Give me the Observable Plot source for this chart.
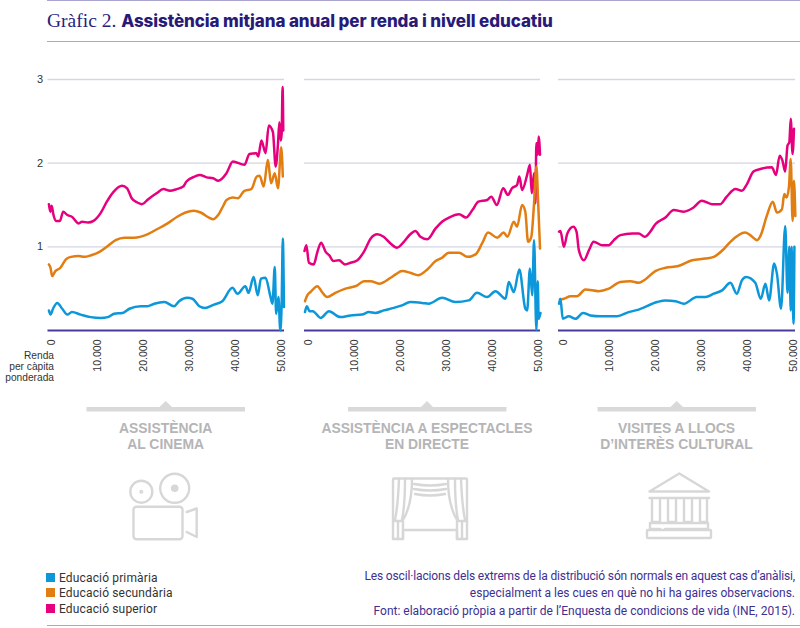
<!DOCTYPE html>
<html><head><meta charset="utf-8">
<script src="https://cdn.jsdelivr.net/npm/d3@7"></script>
<script src="https://cdn.jsdelivr.net/npm/@observablehq/plot@0.6"></script>
<style>
html,body{margin:0;padding:0;background:#fff}
#page{position:relative;width:800px;height:628px;overflow:hidden;font-family:"Liberation Sans",sans-serif}
.abs{position:absolute;white-space:nowrap}
.rule{position:absolute;height:1px;background:#aaa5d0;left:47px;right:0}
#title{left:47px;top:7px;color:#2a1e7c;font-size:19.5px;font-family:"Liberation Serif",serif;line-height:28px}
#title b{font-family:"Inter",sans-serif;font-size:17px;font-weight:800;letter-spacing:-.08px;color:#281a78}
.head{color:#b5b5b7;font-weight:700;font-size:13.9px;line-height:16px;text-align:center;transform:translateX(-50%)}
.legend{left:59px;font-size:12px;color:#333;font-family:"Roboto",sans-serif;letter-spacing:.15px;line-height:15px}
.sw{position:absolute;left:46px;width:9px;height:9px}
.note{right:5px;font-size:12px;color:#3e2f92;font-family:"Roboto",sans-serif;text-align:right;line-height:15px}
.rl{right:746px;font-size:10.2px;color:#333;line-height:11px;text-align:right}
svg.deco{position:absolute;left:0;top:0;pointer-events:none}
</style></head><body>
<div id="page">
<div class="rule" style="top:0"></div>
<div class="abs" id="title">Gràfic 2. <b>Assistència mitjana anual per renda i nivell educatiu</b></div>
<div class="rule" style="top:41px"></div>
<div class="abs rl" style="top:350px">Renda<br>per càpita<br>ponderada</div>

<svg class="deco" width="800" height="628" fill="none" stroke="#d7d7d8" stroke-width="2.4" stroke-linejoin="round" stroke-linecap="round">
  <g stroke="none" fill="#d9d9da">
    <path d="M86.5 407H159.5L165.7 401L172 407H245V411.5H86.5Z"/>
    <path d="M348 407H421L427 401L433 407H506.5V411.5H348Z"/>
    <path d="M597.5 407H670.5L676.7 401L683 407H756V411.5H597.5Z"/>
  </g>
  <circle cx="141.3" cy="491.7" r="11"/><circle cx="141.3" cy="491.7" r=".8"/>
  <circle cx="174.7" cy="488.3" r="14.5"/><circle cx="174.7" cy="488.3" r="2.6" fill="#d7d7d8"/>
  <rect x="133.5" y="506.7" width="49" height="32.5" rx="3"/>
  <path d="M186.7 512L196.7 508.5V537L186.7 532"/>
  <path d="M393 539V479.5Q393 478.5 394 478.5H466Q467 478.5 467 479.5V539H457V530H403V539Z"/>
  <path d="M403 539V521M398 539V522M393 521H403M457 539V521M462 539V522M457 521H467"/>
  <path d="M399 479Q398 505 395 520M405 479Q405 505 402 520M412 479Q412 505 403 520"/>
  <path d="M461 479Q462 505 465 520M455 479Q455 505 458 520M448 479Q448 505 457 520"/>
  <path d="M414 484Q430 487 446 484M414 489Q430 492 446 489M415 494Q430 497 445 494"/>
  <path d="M649.5 491.5L679.3 473.5L709 491.5Z"/>
  <path d="M649.5 498H709"/>
  <path d="M652 500V522H660V500M668 500V522H676V500M684 500V522H692V500M700 500V522H707V500"/>
  <path d="M650 523H708V529H665M660 529H650V523"/>
  <rect x="647" y="530" width="64" height="8" rx="1"/>
</svg>

<div class="abs head" style="left:165.7px;top:420px">ASSISTÈNCIA<br>AL CINEMA</div>
<div class="abs head" style="left:427px;top:420px">ASSISTÈNCIA A ESPECTACLES<br>EN DIRECTE</div>
<div class="abs head" style="left:676.5px;top:420px">VISITES A LLOCS<br>D’INTERÈS CULTURAL</div>

<div class="sw" style="top:573px;background:#0b97d9"></div><div class="abs legend" style="top:571px">Educació primària</div>
<div class="sw" style="top:588px;background:#e27d12"></div><div class="abs legend" style="top:586px">Educació secundària</div>
<div class="sw" style="top:604px;background:#e6007e"></div><div class="abs legend" style="top:602px">Educació superior</div>

<div class="abs note" style="top:569px;letter-spacing:-.15px">Les oscil·lacions dels extrems de la distribució són normals en aquest cas d’anàlisi,</div>
<div class="abs note" style="top:586px">especialment a les cues en què no hi ha gaires observacions.</div>
<div class="abs note" style="top:604px">Font: elaboració pròpia a partir de l’Enquesta de condicions de vida (INE, 2015).</div>
<div class="rule" style="top:625px"></div>
</div>
<script>
// [renda (milers d'euros), assistència]
const cinemaSuperior=[[-.5,1.51],[-.2,1.42],[.1,1.49],[.5,1.38],[1,1.31],[1.9,1.31],[2.6,1.42],[3.5,1.38],[4.5,1.36],[6,1.28],[6.7,1.3],[8,1.29],[9.2,1.31],[10.7,1.4],[12.1,1.54],[13.6,1.66],[15.4,1.73],[16.5,1.7],[17.5,1.58],[18.7,1.53],[19.7,1.51],[21.1,1.57],[22.9,1.64],[24.4,1.69],[25.8,1.67],[27.3,1.69],[28.7,1.72],[29.4,1.78],[31.2,1.84],[32.3,1.86],[33.8,1.83],[35.2,1.82],[36.3,1.79],[38.1,1.88],[39.5,2.02],[42,1.98],[43.1,2.11],[44.6,2.12],[45,2.08],[45.7,2.27],[46.6,2.12],[47.3,2.45],[48.2,2.37],[48.8,1.96],[49.3,2.23],[49.6,2.49],[49.9,2.27],[50.1,2.35],[50.3,2.91],[50.45,2.39]];
const cinemaSecundaria=[[-.5,.79],[-.15,.75],[.2,.65],[.9,.71],[2,.75],[3.2,.85],[4.3,.88],[6,.89],[7.2,.88],[8.7,.9],[10.5,.94],[12.3,1.01],[14,1.08],[15.9,1.11],[18,1.11],[20.9,1.15],[23,1.21],[25.3,1.28],[27.4,1.36],[29.2,1.41],[31,1.43],[32.5,1.41],[34.3,1.35],[35.2,1.33],[36.3,1.38],[37.5,1.5],[38.1,1.56],[39.5,1.59],[40.6,1.58],[42,1.67],[43.5,1.69],[44.7,1.84],[45.3,1.85],[46.2,1.72],[47.1,2.04],[47.8,1.76],[48.6,1.88],[49.3,1.7],[50,2.19],[50.35,1.84]];
const cinemaPrimaria=[[-.5,.24],[-.15,.19],[.4,.26],[1.3,.33],[2.4,.26],[3.5,.19],[4.5,.22],[6.4,.19],[8.6,.16],[10.8,.15],[12.3,.16],[13.7,.2],[15.5,.21],[17,.26],[19.5,.29],[20.9,.29],[22.4,.32],[24.6,.34],[26.7,.29],[27.8,.35],[29.6,.39],[30.7,.38],[32.2,.29],[33.4,.27],[35.4,.31],[37.2,.35],[39.4,.51],[40.5,.44],[42.2,.53],[42.9,.45],[44,.64],[44.9,.42],[45.6,.62],[46.6,.63],[47.6,.42],[48.1,.32],[48.6,.76],[48.9,.2],[49.4,.4],[49.8,0],[50.1,.32],[50.35,1.1],[50.6,.28]];
const directeSuperior=[[-.8,.95],[-.4,1.02],[.15,.81],[1.2,.79],[2,.94],[2.8,1.05],[3.8,.94],[4.7,.89],[5.4,.83],[6.7,.84],[8,.79],[9.2,.81],[10.7,.84],[12.1,.94],[13.6,1.1],[15,1.15],[16.4,1.12],[17.9,1.04],[19.3,.99],[20.8,1.06],[22.2,1.15],[23.3,1.19],[24.4,1.12],[25.9,1.09],[27.7,1.22],[29.1,1.3],[30.6,1.35],[32.8,1.39],[34.3,1.35],[35.7,1.44],[37,1.54],[38.9,1.56],[39.8,1.6],[41,1.5],[42.4,1.7],[43.4,1.62],[44.3,1.7],[45.4,1.74],[45.9,1.84],[46.5,1.68],[47.6,1.86],[48.2,1.98],[48.6,1.64],[49.1,1.88],[49.4,1.52],[49.6,2.24],[49.9,2.1],[50.1,2.32],[50.4,2.1]];
const directeSecundaria=[[-.7,.35],[-.2,.42],[.5,.46],[2,.53],[3,.46],[4.1,.4],[5.9,.45],[8.1,.5],[10.7,.54],[12.1,.59],[13.6,.59],[15.4,.56],[17.9,.63],[19,.67],[20.4,.71],[22.2,.69],[23.9,.66],[25.9,.73],[27.7,.83],[29.1,.87],[30.6,.93],[32.8,.93],[34.6,.88],[36.4,.91],[37.8,1.04],[39.1,1.17],[41.1,1.11],[42.5,1.17],[43.3,1.12],[44.7,1.3],[45.4,1.24],[46.5,1.5],[47.2,1.42],[47.8,1.06],[48.5,1.12],[49.1,1.52],[49.6,1.96],[50,1.52],[50.4,.98]];
const directePrimaria=[[-.7,.22],[-.3,.29],[.3,.23],[1,.23],[2.7,.15],[4.5,.23],[7,.16],[9.2,.18],[11.7,.19],[13.2,.22],[14.6,.21],[16.4,.24],[18.6,.27],[20.4,.3],[22.2,.34],[24.8,.33],[26.2,.32],[29.1,.39],[32,.34],[34.9,.36],[36.7,.45],[38.9,.4],[40.7,.47],[42.9,.38],[43.6,.58],[44.7,.46],[45.9,.73],[47.2,.26],[47.6,.24],[48.2,.74],[48.7,.42],[49.1,1.08],[49.6,.01],[49.9,.59],[50.1,.14],[50.5,.21]];
const visitesSuperior=[[-.9,1.18],[-.6,1.19],[.15,1],[.9,1.16],[2.2,1.24],[2.9,1.18],[3.4,.96],[4.5,.84],[5.6,.96],[6.6,1.06],[8.5,1.02],[9.9,1.02],[11,1.08],[12.4,1.14],[15,1.16],[16.4,1.16],[17.7,1.12],[18.9,1.18],[20,1.27],[22.2,1.35],[24,1.44],[26.2,1.42],[28.3,1.47],[30.1,1.55],[32.3,1.51],[34.1,1.51],[35.5,1.6],[37.4,1.69],[38.8,1.67],[39.9,1.75],[41.3,1.9],[42.8,1.93],[45.3,1.95],[46.2,1.86],[47,2.09],[47.6,2.03],[48.2,1.9],[48.7,2.21],[49.1,2.25],[49.4,2.53],[49.8,2.11],[50.1,2.41]];
const visitesSecundaria=[[-.7,.37],[.15,.38],[1.6,.41],[3,.41],[4.8,.49],[7.7,.47],[9.9,.5],[12.4,.58],[14.6,.59],[16.4,.57],[17.8,.61],[20,.71],[22.2,.75],[25,.77],[28,.84],[30.9,.86],[32.7,.88],[34.8,.97],[36.3,1.06],[39.5,1.17],[40.6,1.14],[42.1,1.08],[42.9,1.14],[44.2,1.37],[45.5,1.54],[46.4,1.41],[47.5,1.45],[48,1.63],[48.5,1.59],[49,1.71],[49.4,2.05],[49.8,1.31],[50.1,1.79],[50.4,1.37]];
const visitesPrimaria=[[-.9,.32],[-.6,.38],[-.1,.14],[1.2,.17],[2.7,.14],[4.3,.21],[5.9,.18],[8.1,.17],[11.7,.17],[14.2,.22],[16.4,.25],[20.4,.34],[22.2,.36],[24.4,.35],[26.2,.32],[29,.4],[30.9,.4],[32.7,.44],[34.5,.48],[36.3,.57],[37.7,.44],[38.8,.6],[39.7,.64],[41.7,.57],[42.9,.38],[43.9,.56],[44.7,.36],[45.8,.8],[46.4,.68],[47.3,.26],[48.2,1.25],[48.7,.45],[49.1,1],[49.4,.24],[49.6,1],[50,.08],[50.2,1]];
const xTicks=[0,10000,20000,30000,40000,50000];
const xTickLabels=["0","10.000","20.000","30.000","40.000","50.000"];
const yTicks=[1,2,3];
const seriesColors=["#e6007e","#e27d12","#0b97d9"];

const panels=[
 {left:40,a:10.7,b:240.7,x1:7.5,x2:244,s:[cinemaSuperior,cinemaSecundaria,cinemaPrimaria],yAxis:true},
 {left:295,a:12.7,b:242.7,x1:9,x2:245,s:[directeSuperior,directeSecundaria,directePrimaria]},
 {left:550,a:12.7,b:243,x1:8,x2:245,s:[visitesSuperior,visitesSecundaria,visitesPrimaria]}
];
const page=document.getElementById("page");
for(const p of panels){
  const scaleX=(p.b-p.a)/50000;
  const toX=px=>(px-p.a)/scaleX;
  const marks=[
    Plot.ruleY(yTicks,{x1:toX(p.x1),x2:toX(p.x2),stroke:"#d6d4e6",strokeWidth:1.4}),
    Plot.ruleY([0],{x1:toX(p.x1),x2:toX(p.x2),stroke:"#4b3a9c",strokeWidth:1.8}),
    ...p.s.map((d,i)=>Plot.line(d,{x:v=>v[0]*1000,y:v=>v[1],stroke:seriesColors[i],strokeWidth:2.5,strokeLinejoin:"round",curve:"monotone-x"})),
    Plot.axisX({ticks:xTicks,tickSize:0,tickRotate:-90,tickPadding:9,fontSize:10.5,
      tickFormat:d=>xTickLabels[xTicks.indexOf(d)],label:null,color:"#333"})
  ];
  if(p.yAxis) marks.push(Plot.axisY({ticks:yTicks,tickSize:0,tickPadding:0,anchor:"left",fontSize:11,label:null,tickFormat:d=>String(d),color:"#333",dx:-8}));
  const svg=Plot.plot({
    width:256,height:320,marginLeft:p.a,marginRight:256-p.b,marginTop:19,marginBottom:50,
    x:{domain:[0,50000],range:[p.a,p.b]},
    y:{domain:[0,3],range:[270,19],axis:null},
    style:{background:"none",fontFamily:"'Liberation Sans',sans-serif",overflow:"visible"},
    marks
  });
  svg.style.position="absolute";svg.style.left=p.left+"px";svg.style.top="60px";
  page.appendChild(svg);
}
</script>
</body></html>
